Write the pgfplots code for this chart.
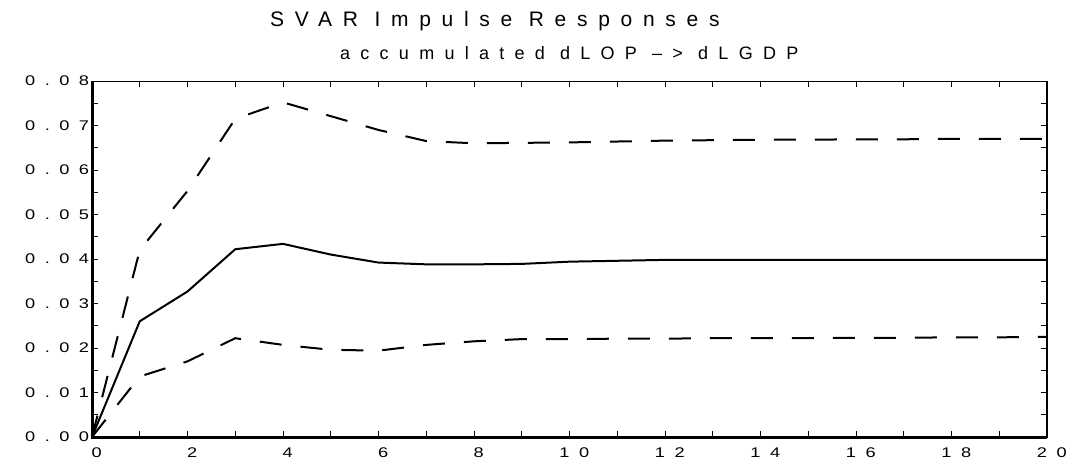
\documentclass[border=0pt]{standalone}
\usepackage{fontspec}
\setmainfont{Liberation Sans}
\newfontfamily\tickfont[LetterSpace=68,FakeStretch=1.3]{Liberation Sans}
\newfontfamily\titlefont[LetterSpace=51]{Liberation Sans}
\newfontfamily\subfont[LetterSpace=57]{Liberation Sans}
\usepackage{pgfplots}
\usepackage{pgfplotstable}
\pgfplotsset{compat=1.18}

\pgfplotstableread{
x mid upper lower
0  0.0000 0.0000 0.0000
1  0.0260 0.0420 0.0136
2  0.0327 0.0553 0.0170
3  0.0422 0.0715 0.0222
4  0.0434 0.0752 0.0207
5  0.0410 0.0721 0.0196
6  0.0392 0.0690 0.0194
7  0.0388 0.0665 0.0207
8  0.0388 0.0660 0.0215
9  0.0389 0.0661 0.0220
10 0.0394 0.0662 0.0220
11 0.0396 0.0664 0.0221
12 0.0398 0.0666 0.0221
13 0.0398 0.0667 0.0222
14 0.0398 0.0668 0.0222
15 0.0398 0.0668 0.0222
16 0.0398 0.0669 0.0223
17 0.0398 0.0669 0.0223
18 0.0398 0.0670 0.0224
19 0.0398 0.0670 0.0224
20 0.0398 0.0670 0.0225
}\irf

\begin{document}
\begin{tikzpicture}[x=1pt,y=1pt]
\useasboundingbox (0,0) rectangle (1076,466);
\begin{axis}[
  at={(92pt,29pt)}, anchor=south west,
  scale only axis, width=955pt, height=356pt,
  xmin=0, xmax=20, ymin=0, ymax=0.08,
  xtick={0,2,4,6,8,10,12,14,16,18,20}, minor x tick num=1,
  ytick={0,0.01,0.02,0.03,0.04,0.05,0.06,0.07,0.08}, minor y tick num=1,
  tick align=inside, major tick length=6pt, minor tick length=6pt,
  tick style={black, line width=1pt},
  axis line style={line width=1pt},
  scaled y ticks=false,
  clip=false,
  xticklabel style={font=\tickfont\fontsize{14}{14}\selectfont, anchor=north, inner sep=0pt, yshift=-11pt, xshift=4.8pt,
     /pgf/number format/assume math mode=true},
  yticklabel style={font=\tickfont\fontsize{14}{14}\selectfont, anchor=east, inner sep=0pt, xshift=-2.7pt,
     /pgf/number format/.cd, fixed, fixed zerofill, precision=2, assume math mode=true},
]
\addplot[black, line width=2pt] table[x=x, y=mid] {\irf};
\addplot[black, line width=2pt, dash pattern=on 22pt off 19pt] table[x=x, y=upper] {\irf};
\addplot[black, line width=2pt, dash pattern=on 22pt off 19pt] table[x=x, y=lower] {\irf};
\draw[line width=3pt] (rel axis cs:0,1) -- (rel axis cs:0,0) -- (rel axis cs:1,0);
\draw[line width=2pt] (rel axis cs:1,0) -- (rel axis cs:1,1);
\node[anchor=base west, inner sep=0pt, font=\titlefont\fontsize{21}{21}\selectfont] at (rel axis cs:0.1864,1.1517) {SVAR Impulse Responses};
\node[anchor=base west, inner sep=0pt, font=\subfont\fontsize{18}{18}\selectfont] at (rel axis cs:0.2597,1.0618) {accumulated dLOP \textendash> dLGDP};
\end{axis}
\end{tikzpicture}
\end{document}
